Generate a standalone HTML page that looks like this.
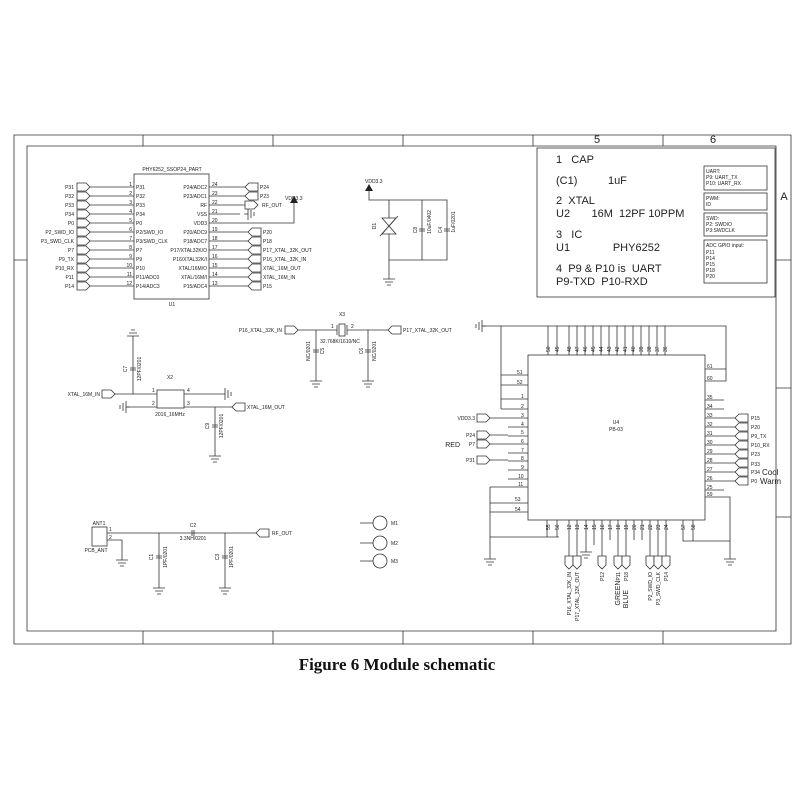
<!DOCTYPE html>
<html><head><meta charset="utf-8"><style>
body{margin:0;background:#fff;}
svg{display:block;font-family:"Liberation Sans",sans-serif;}
.l{stroke:#333;stroke-width:0.8;fill:none}
.t{font-size:5px;fill:#222}
.b{font-size:11px;fill:#222}
.s{font-size:5px;fill:#222}
.f{fill:#fff;stroke:#333;stroke-width:0.8}
</style></head><body>
<svg width="800" height="800" viewBox="0 0 800 800" xmlns="http://www.w3.org/2000/svg">
<defs>
<path id="fr" d="M0 -4 h9 l4 4 l-4 4 h-9 z" class="f"/>
<path id="fl" d="M0 -4 h-9 l-4 4 l4 4 h9 z" class="f"/>
<path id="fd" d="M-4 0 v9 l4 4 l4 -4 v-9 z" class="f"/>
<g id="gnd"><path class="l" d="M0 0 v4 M-6 4 h12 M-4 7 h8 M-2 10 h4"/></g>
<g id="gl"><path class="l" d="M0 0 h-4 M-4 -6 v12 M-7 -4 v8 M-10 -2 v4"/></g>
</defs>
<!-- frame -->
<path class="l" d="M14 135 H791 V644 H14 Z M27 146 H776 V631 H27 Z"/>
<path class="l" d="M143 135 V146 M273 135 V146 M403 135 V146 M533 135 V146 M663 135 V146 M143 631 V644 M273 631 V644 M403 631 V644 M533 631 V644 M663 631 V644 M14 260 H27 M776 260 H791 M776 388 H791 M776 517 H791"/>
<text x="597" y="143" class="b" text-anchor="middle">5</text>
<text x="713" y="143" class="b" text-anchor="middle">6</text>
<text x="784" y="200" class="b" text-anchor="middle">A</text>

<!-- info box -->
<rect x="537" y="148" width="238" height="149" class="l"/>
<text x="556" y="163" class="b">1&#160;&#160;&#160;CAP</text>
<text x="556" y="184" class="b">(C1)&#160;&#160;&#160;&#160;&#160;&#160;&#160;&#160;&#160;&#160;1uF</text>
<text x="556" y="204" class="b">2&#160;&#160;XTAL</text>
<text x="556" y="217" class="b">U2&#160;&#160;&#160;&#160;&#160;&#160;&#160;16M&#160;&#160;12PF 10PPM</text>
<text x="556" y="238" class="b">3&#160;&#160;&#160;IC</text>
<text x="556" y="251" class="b">U1&#160;&#160;&#160;&#160;&#160;&#160;&#160;&#160;&#160;&#160;&#160;&#160;&#160;&#160;PHY6252</text>
<text x="556" y="272" class="b">4&#160;&#160;P9 &amp; P10&#160;is&#160;&#160;UART</text>
<text x="556" y="285" class="b">P9-TXD&#160;&#160;P10-RXD</text>
<rect x="704" y="166" width="63" height="24" class="l"/>
<text x="706" y="173" class="s">UART:</text><text x="706" y="179" class="s">P9: UART_TX</text><text x="706" y="185" class="s">P10: UART_RX</text>
<rect x="704" y="193" width="63" height="17" class="l"/>
<text x="706" y="200" class="s">PWM:</text><text x="706" y="206" class="s">ID</text>
<rect x="704" y="213" width="63" height="23" class="l"/>
<text x="706" y="220" class="s">SWD:</text><text x="706" y="226" class="s">P2: SWDIO</text><text x="706" y="232" class="s">P3:SWDCLK</text>
<rect x="704" y="240" width="63" height="43" class="l"/>
<text x="706" y="247" class="s">ADC GPIO input:</text><text x="706" y="254" class="s">P11</text><text x="706" y="260" class="s">P14</text><text x="706" y="266" class="s">P15</text><text x="706" y="272" class="s">P18</text><text x="706" y="278" class="s">P20</text>

<!-- U1 -->
<text x="172" y="171" class="t" text-anchor="middle">PHY6252_SSOP24_PART</text>
<rect x="134" y="174" width="75" height="125" class="l"/>
<text x="172" y="306" class="t" text-anchor="middle">U1</text>
<g class="l"><path d="M90 187H134 M90 196H134 M90 205H134 M90 214H134 M90 223H134 M90 232H134 M90 241H134 M90 250H134 M90 259H134 M90 268H134 M90 277H134 M90 286H134"/></g>
<use href="#fr" x="77" y="187"/><use href="#fr" x="77" y="196"/><use href="#fr" x="77" y="205"/><use href="#fr" x="77" y="214"/><use href="#fr" x="77" y="223"/><use href="#fr" x="77" y="232"/><use href="#fr" x="77" y="241"/><use href="#fr" x="77" y="250"/><use href="#fr" x="77" y="259"/><use href="#fr" x="77" y="268"/><use href="#fr" x="77" y="277"/><use href="#fr" x="77" y="286"/>
<g class="t" text-anchor="end">
<text x="74" y="189">P31</text><text x="74" y="198">P32</text><text x="74" y="207">P33</text><text x="74" y="216">P34</text><text x="74" y="225">P0</text><text x="74" y="234">P2_SWD_IO</text><text x="74" y="243">P3_SWD_CLK</text><text x="74" y="252">P7</text><text x="74" y="261">P9_TX</text><text x="74" y="270">P10_RX</text><text x="74" y="279">P11</text><text x="74" y="288">P14</text>
<text x="132" y="186">1</text><text x="132" y="195">2</text><text x="132" y="204">3</text><text x="132" y="213">4</text><text x="132" y="222">5</text><text x="132" y="231">6</text><text x="132" y="240">7</text><text x="132" y="249">8</text><text x="132" y="258">9</text><text x="132" y="267">10</text><text x="132" y="276">11</text><text x="132" y="285">12</text>
<text x="207" y="189">P24/ADC2</text><text x="207" y="198">P23/ADC1</text><text x="207" y="207">RF</text><text x="207" y="216">VSS</text><text x="207" y="225">VDD3</text><text x="207" y="234">P20/ADC9</text><text x="207" y="243">P18/ADC7</text><text x="207" y="252">P17/XTAL32K/O</text><text x="207" y="261">P16/XTAL32K/I</text><text x="207" y="270">XTAL/16M/O</text><text x="207" y="279">XTAL/16M/I</text><text x="207" y="288">P15/ADC4</text>
</g>
<g class="t">
<text x="136" y="189">P31</text><text x="136" y="198">P32</text><text x="136" y="207">P33</text><text x="136" y="216">P34</text><text x="136" y="225">P0</text><text x="136" y="234">P2/SWD_IO</text><text x="136" y="243">P3/SWD_CLK</text><text x="136" y="252">P7</text><text x="136" y="261">P9</text><text x="136" y="270">P10</text><text x="136" y="279">P11/ADC0</text><text x="136" y="288">P14/ADC3</text>
<text x="212" y="186">24</text><text x="212" y="195">23</text><text x="212" y="204">22</text><text x="212" y="213">21</text><text x="212" y="222">20</text><text x="212" y="231">19</text><text x="212" y="240">18</text><text x="212" y="249">17</text><text x="212" y="258">16</text><text x="212" y="267">15</text><text x="212" y="276">14</text><text x="212" y="285">13</text>
<text x="260" y="189">P24</text><text x="260" y="198">P23</text><text x="262" y="207">RF_OUT</text><text x="263" y="234">P20</text><text x="263" y="243">P18</text><text x="263" y="252">P17_XTAL_32K_OUT</text><text x="263" y="261">P16_XTAL_32K_IN</text><text x="263" y="270">XTAL_16M_OUT</text><text x="263" y="279">XTAL_16M_IN</text><text x="263" y="288">P15</text>
<text x="285" y="200">VDD3.3</text>
</g>
<path class="l" d="M209 187H245 M209 196H245 M209 205H245 M209 214H240 M209 223H294V203 M209 232H248 M209 241H248 M209 250H248 M209 259H248 M209 268H248 M209 277H248 M209 286H248"/>
<path d="M290 203 L294 196 L298 203 Z" fill="#222"/>
<use href="#gl" x="244" y="214" transform="translate(488 0) scale(-1 1)"/>
<use href="#fl" x="258" y="187"/><use href="#fl" x="258" y="196"/><use href="#fr" x="245" y="205"/>
<use href="#fl" x="261" y="232"/><use href="#fl" x="261" y="241"/><use href="#fl" x="261" y="250"/><use href="#fl" x="261" y="259"/><use href="#fl" x="261" y="268"/><use href="#fl" x="261" y="277"/><use href="#fl" x="261" y="286"/>

<!-- D1 C8 C4 -->
<text x="365" y="183" class="t">VDD3.3</text>
<path d="M365 191 L369 184 L373 191 Z" fill="#222"/>
<path class="l" d="M369 191V200H447V260H389 M389 200V260V275 M422 200V260"/>
<use href="#gnd" x="389" y="275"/>
<path d="M382 218L396 218L389 226Z M382 234L396 234L389 226Z" class="f"/>
<path class="l" d="M380 236L398 216"/>
<path class="l" d="M419 229h6 M419 231h6 M444 229h6 M444 231h6"/>
<text transform="translate(376 226) rotate(-90)" class="t" text-anchor="middle">D1</text>
<text transform="translate(417 230) rotate(-90)" class="t" text-anchor="middle">C8</text>
<text transform="translate(431 222) rotate(-90)" class="t" text-anchor="middle">10uF/0402</text>
<text transform="translate(442 230) rotate(-90)" class="t" text-anchor="middle">C4</text>
<text transform="translate(455 222) rotate(-90)" class="t" text-anchor="middle">1uF/0201</text>

<!-- X3 -->
<text x="342" y="316" class="t" text-anchor="middle">X3</text>
<use href="#fr" x="285" y="330"/>
<text x="282" y="332" class="t" text-anchor="end">P16_XTAL_32K_IN</text>
<path class="l" d="M298 330H337 M347 330H388 M316 330V377 M368 330V377"/>
<rect x="339" y="324" width="6" height="12" class="l"/>
<path class="l" d="M337 325v10 M347 325v10"/>
<text x="331" y="328" class="t">1</text><text x="351" y="328" class="t">2</text>
<use href="#fl" x="401" y="330"/>
<text x="403" y="332" class="t">P17_XTAL_32K_OUT</text>
<text x="340" y="343" class="t" text-anchor="middle">32.768K/1610/NC</text>
<path class="l" d="M313 350h6 M313 352h6 M365 350h6 M365 352h6"/>
<text transform="translate(310 351) rotate(-90)" class="t" text-anchor="middle">NC/0201</text>
<text transform="translate(324 351) rotate(-90)" class="t" text-anchor="middle">C5</text>
<text transform="translate(363 351) rotate(-90)" class="t" text-anchor="middle">C6</text>
<text transform="translate(376 351) rotate(-90)" class="t" text-anchor="middle">NC/0201</text>
<use href="#gnd" x="316" y="377"/><use href="#gnd" x="368" y="377"/>

<!-- X2 -->
<text x="170" y="379" class="t" text-anchor="middle">X2</text>
<rect x="157" y="390" width="27" height="18" class="l"/>
<text x="170" y="416" class="t" text-anchor="middle">2016_16MHz</text>
<use href="#fr" x="102" y="394"/>
<text x="100" y="396" class="t" text-anchor="end">XTAL_16M_IN</text>
<path class="l" d="M115 394H157 M133 394V340 M184 394H221 M126 407H157 M184 407H232 M215 407V452"/>
<g transform="translate(133 340) scale(1 -1)"><use href="#gnd"/></g>
<g transform="translate(221 394) scale(-1 1)"><use href="#gl"/></g>
<use href="#gl" x="130" y="407"/>
<text x="152" y="392" class="t">1</text><text x="152" y="405" class="t">2</text><text x="187" y="392" class="t">4</text><text x="187" y="405" class="t">3</text>
<use href="#fl" x="245" y="407"/>
<text x="247" y="409" class="t">XTAL_16M_OUT</text>
<path class="l" d="M130 368h6 M130 370h6 M212 425h6 M212 427h6"/>
<text transform="translate(127 369) rotate(-90)" class="t" text-anchor="middle">C7</text>
<text transform="translate(141 369) rotate(-90)" class="t" text-anchor="middle">12PF/0201</text>
<text transform="translate(209 426) rotate(-90)" class="t" text-anchor="middle">C9</text>
<text transform="translate(223 426) rotate(-90)" class="t" text-anchor="middle">12PF/0201</text>
<use href="#gnd" x="215" y="452"/>

<!-- ANT -->
<rect x="92" y="527" width="15" height="19" class="l"/>
<text x="99" y="525" class="t" text-anchor="middle">ANT1</text>
<text x="96" y="552" class="t" text-anchor="middle">PCB_ANT</text>
<text x="109" y="531" class="t">1</text><text x="109" y="539" class="t">2</text>
<path class="l" d="M107 533H256 M107 540H122V556 M159 533V584 M225 533V584"/>
<use href="#gnd" x="122" y="556"/><use href="#gnd" x="159" y="584"/><use href="#gnd" x="225" y="584"/>
<path class="l" d="M192 530v6 M194 530v6"/>
<text x="193" y="527" class="t" text-anchor="middle">C2</text>
<text x="193" y="540" class="t" text-anchor="middle">3.3NH/0201</text>
<use href="#fl" x="269" y="533"/>
<text x="272" y="535" class="t">RF_OUT</text>
<path class="l" d="M156 556h6 M156 558h6 M222 556h6 M222 558h6"/>
<text transform="translate(153 557) rotate(-90)" class="t" text-anchor="middle">C1</text>
<text transform="translate(167 557) rotate(-90)" class="t" text-anchor="middle">1PF/0201</text>
<text transform="translate(219 557) rotate(-90)" class="t" text-anchor="middle">C3</text>
<text transform="translate(233 557) rotate(-90)" class="t" text-anchor="middle">1PF/0201</text>

<!-- M1..M3 -->
<path class="l" d="M360 523H373 M360 543H373 M360 561H373"/>
<circle cx="380" cy="523" r="7" class="l"/><circle cx="380" cy="543" r="7" class="l"/><circle cx="380" cy="561" r="7" class="l"/>
<text x="391" y="525" class="t">M1</text><text x="391" y="545" class="t">M2</text><text x="391" y="563" class="t">M3</text>

<!-- U4 -->
<rect x="528" y="355" width="177" height="165" class="l"/>
<text x="616" y="424" class="t" text-anchor="middle">U4</text>
<text x="616" y="431" class="t" text-anchor="middle">PB-03</text>
<path class="l" d="M482 326H726V381H705 M705 369H726 M501 326V409 M501 375H528 M501 385H528 M501 399H528 M501 409H528
M548 326V355 M557 326V355 M569 326V355 M577 326V355 M585 326V355 M593 326V355 M601 326V355 M609 326V355 M617 326V355 M625 326V355 M633 326V355 M641 326V355 M649 326V355 M657 326V355 M665 326V355"/>
<g transform="translate(486 326)"><use href="#gl"/></g>
<g class="t">
<text transform="translate(550 352) rotate(-90)">50</text><text transform="translate(559 352) rotate(-90)">49</text>
<text transform="translate(571 352) rotate(-90)">48</text><text transform="translate(579 352) rotate(-90)">47</text><text transform="translate(587 352) rotate(-90)">46</text><text transform="translate(595 352) rotate(-90)">45</text><text transform="translate(603 352) rotate(-90)">44</text><text transform="translate(611 352) rotate(-90)">43</text><text transform="translate(619 352) rotate(-90)">42</text><text transform="translate(627 352) rotate(-90)">41</text><text transform="translate(635 352) rotate(-90)">40</text><text transform="translate(643 352) rotate(-90)">39</text><text transform="translate(651 352) rotate(-90)">38</text><text transform="translate(659 352) rotate(-90)">37</text><text transform="translate(667 352) rotate(-90)">36</text>
<text x="517" y="374">51</text><text x="517" y="384">52</text><text x="521" y="398">1</text><text x="521" y="408">2</text><text x="521" y="417">3</text><text x="521" y="426">4</text><text x="521" y="434">5</text><text x="521" y="443">6</text><text x="521" y="452">7</text><text x="521" y="460">8</text><text x="521" y="469">9</text><text x="518" y="478">10</text><text x="518" y="486">11</text><text x="515" y="501">53</text><text x="515" y="511">54</text>
<text x="707" y="368">61</text><text x="707" y="380">60</text><text x="707" y="399">35</text><text x="707" y="408">34</text><text x="707" y="417">33</text><text x="707" y="426">32</text><text x="707" y="435">31</text><text x="707" y="444">30</text><text x="707" y="453">29</text><text x="707" y="462">28</text><text x="707" y="471">27</text><text x="707" y="480">26</text><text x="707" y="489">25</text><text x="707" y="496">59</text>
</g>
<path class="l" d="M508 418H528 M508 427H528 M508 436H528 M508 444H528 M508 453H528 M508 461H528 M508 470H528 M508 479H528 M490 487H528 M490 503H528 M490 512H528 M490 487V555 M490 537H559 M547 520V537 M557 520V537"/>
<use href="#gnd" x="490" y="555"/>
<use href="#fr" x="477" y="418"/><text x="475" y="420" class="t" text-anchor="end">VDD3.3</text>
<use href="#fr" x="477" y="435"/><text x="475" y="437" class="t" text-anchor="end">P24</text>
<use href="#fr" x="477" y="444"/><text x="475" y="446" class="t" text-anchor="end">P7</text>
<text x="460" y="447" style="font-size:7px;fill:#222" text-anchor="end">RED</text>
<use href="#fr" x="477" y="460"/><text x="475" y="462" class="t" text-anchor="end">P31</text>
<path class="l" d="M490 418H508 M490 435H508 M490 444H508 M490 460H508"/>
<path class="l" d="M705 400H724 M705 409H724 M705 418H735 M705 427H735 M705 436H735 M705 445H735 M705 454H735 M705 463H735 M705 472H735 M705 481H735 M705 490H724 M705 497H730V555"/>
<use href="#gnd" x="730" y="555"/>
<use href="#fl" x="748" y="418"/><use href="#fl" x="748" y="427"/><use href="#fl" x="748" y="436"/><use href="#fl" x="748" y="445"/><use href="#fl" x="748" y="454"/><use href="#fl" x="748" y="463"/><use href="#fl" x="748" y="472"/><use href="#fl" x="748" y="481"/>
<g class="t">
<text x="751" y="420">P15</text><text x="751" y="429">P20</text><text x="751" y="438">P9_TX</text><text x="751" y="447">P10_RX</text><text x="751" y="456">P23</text><text x="751" y="466">P33</text><text x="751" y="474">P34</text><text x="751" y="483">P0</text>
</g>
<text x="762" y="475" style="font-size:8px;fill:#222">Cool</text>
<text x="760" y="484" style="font-size:8px;fill:#222">Warm</text>
<!-- bottom pins -->
<path class="l" d="M569 520V556 M577 520V556 M586 520V548 M594 520V545 M602 520V556 M610 520V540 M618 520V556 M626 520V556 M634 520V540 M642 520V540 M650 520V556 M658 520V556 M666 520V556 M683 520V541H730 M693 520V541"/>
<path class="l" d="M586 548v4 M580 552h12 M582 555h8 M584 558h4"/>
<g class="t">
<text transform="translate(550 530) rotate(-90)">55</text><text transform="translate(559 530) rotate(-90)">56</text><text transform="translate(571 530) rotate(-90)">12</text><text transform="translate(579 530) rotate(-90)">13</text><text transform="translate(588 530) rotate(-90)">14</text><text transform="translate(596 530) rotate(-90)">15</text><text transform="translate(604 530) rotate(-90)">16</text><text transform="translate(612 530) rotate(-90)">17</text><text transform="translate(620 530) rotate(-90)">18</text><text transform="translate(628 530) rotate(-90)">19</text><text transform="translate(636 530) rotate(-90)">20</text><text transform="translate(644 530) rotate(-90)">21</text><text transform="translate(652 530) rotate(-90)">22</text><text transform="translate(660 530) rotate(-90)">23</text><text transform="translate(668 530) rotate(-90)">24</text><text transform="translate(685 530) rotate(-90)">57</text><text transform="translate(695 530) rotate(-90)">58</text>
</g>
<use href="#fd" x="569" y="556"/><use href="#fd" x="577" y="556"/><use href="#fd" x="602" y="556"/><use href="#fd" x="618" y="556"/><use href="#fd" x="626" y="556"/><use href="#fd" x="650" y="556"/><use href="#fd" x="658" y="556"/><use href="#fd" x="666" y="556"/>
<g class="t" text-anchor="end">
<text transform="translate(571 572) rotate(-90)">P16_XTAL_32K_IN</text>
<text transform="translate(579 572) rotate(-90)">P17_XTAL_32K_OUT</text>
<text transform="translate(604 572) rotate(-90)">P12</text>
<text transform="translate(628 572) rotate(-90)">P18</text>
<text transform="translate(652 572) rotate(-90)">P2_SWD_IO</text>
<text transform="translate(660 572) rotate(-90)">P3_SWD_CLK</text>
<text transform="translate(668 572) rotate(-90)">P14</text>
</g>
<text transform="translate(620 572) rotate(-90)" style="font-size:7px;fill:#222" text-anchor="end">GREEN<tspan style="font-size:5px">P11</tspan></text>
<text transform="translate(628 590) rotate(-90)" style="font-size:7px;fill:#222" text-anchor="end">BLUE</text>

<!-- caption -->
<text x="397" y="670" text-anchor="middle" style="font-family:'Liberation Serif',serif;font-weight:bold;font-size:17px;fill:#111">Figure 6 Module schematic</text>
</svg>
</body></html>
